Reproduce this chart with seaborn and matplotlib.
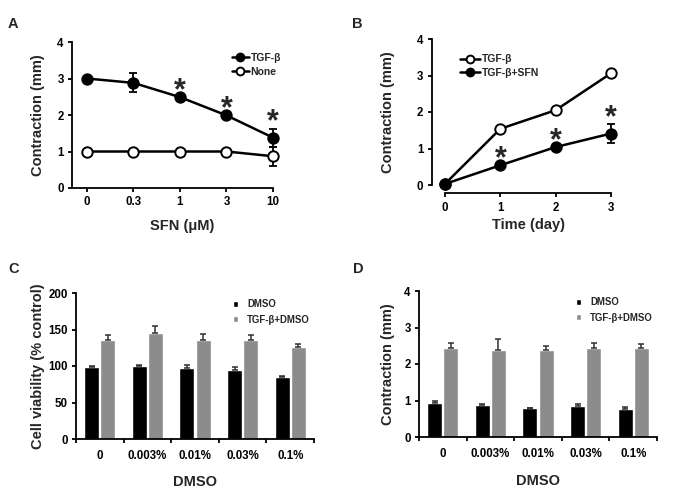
import numpy as np
import pandas as pd
import matplotlib
matplotlib.use("Agg")
import matplotlib.pyplot as plt
import seaborn as sns

# Panel A: contraction vs SFN dose
sfn_labels = ["0", "0.3", "1", "3", "10"]
sfn_tgf = [3.0, 2.88, 2.49, 1.99, 1.38]
sfn_tgf_err = [0.0, 0.26, 0.0, 0.0, 0.25]
sfn_none = [1.0, 1.0, 1.0, 1.0, 0.87]
sfn_none_err = [0.0, 0.0, 0.0, 0.0, 0.26]
sfn_star_idx = [2, 3, 4]

# Panel B: contraction time course
days = [0, 1, 2, 3]
time_tgf = [0.03, 1.54, 2.05, 3.06]
time_tgf_sfn = [0.03, 0.54, 1.04, 1.41]
time_tgf_sfn_err = [0.0, 0.0, 0.0, 0.27]
time_star_idx = [1, 2, 3]

# Panels C and D: DMSO controls
dmso_labels = ["0", "0.003%", "0.01%", "0.03%", "0.1%"]
group_labels = ["DMSO", "TGF-β+DMSO"]
via_dmso = [98.6, 99.5, 97.7, 94.0, 85.4]
via_dmso_err = [1.5, 1.5, 3.5, 4.0, 1.0]
via_tgf = [136.0, 145.7, 136.0, 136.0, 126.5]
via_tgf_err = [6.5, 8.5, 7.8, 7.0, 3.2]
con_dmso = [0.92, 0.87, 0.80, 0.84, 0.78]
con_dmso_err = [0.07, 0.03, 0.0, 0.07, 0.04]
con_tgf = [2.43, 2.39, 2.39, 2.43, 2.43]
con_tgf_err = [0.14, 0.29, 0.10, 0.14, 0.12]

sns.set_theme(style="ticks")
plt.rcParams["font.family"] = ["Liberation Sans", "DejaVu Sans"]
plt.rcParams["font.weight"] = "bold"
plt.rcParams["axes.labelweight"] = "bold"
plt.rcParams["axes.linewidth"] = 1.3
plt.rcParams["xtick.major.width"] = 1.3
plt.rcParams["ytick.major.width"] = 1.3
plt.rcParams["xtick.major.size"] = 3
plt.rcParams["ytick.major.size"] = 3
plt.rcParams["xtick.major.pad"] = 3
plt.rcParams["ytick.major.pad"] = 3
plt.rcParams["xtick.labelsize"] = 8.3
plt.rcParams["ytick.labelsize"] = 8.3
plt.rcParams["axes.labelsize"] = 10.5
plt.rcParams["xtick.color"] = "black"
plt.rcParams["ytick.color"] = "black"
plt.rcParams["axes.edgecolor"] = "black"

W, H = 681, 497
fig = plt.figure(figsize=(W / 100, H / 100), dpi=100)


def px_axes(left, right, top, bottom):
    return fig.add_axes([left / W, 1 - bottom / H, (right - left) / W, (bottom - top) / H])


axA = px_axes(72, 273, 42, 188)
axB = px_axes(445, 611, 39, 185)
axC = px_axes(76, 314, 293, 439)
axD = px_axes(419, 657, 291, 437)

line_kw = dict(color="black", linewidth=1.8, marker="o", markersize=7.5,
               markeredgecolor="black", markeredgewidth=1.4, clip_on=False)
err_kw = dict(fmt="none", ecolor="black", elinewidth=1.3, capsize=3, capthick=1.3,
              zorder=1.5, clip_on=False)
star_kw = dict(ha="center", va="baseline", fontsize=22, fontweight="bold",
               textcoords="offset points", xytext=(0, -1.5))


def add_stars(ax, xs, ys, errs, idx):
    for i in idx:
        ax.annotate("*", xy=(xs[i], ys[i] + errs[i]), **star_kw)


# ---- A ----
ax = axA
xa = np.arange(len(sfn_labels))
sns.lineplot(x=xa, y=sfn_tgf, ax=ax, markerfacecolor="black", label="TGF-β", **line_kw)
sns.lineplot(x=xa, y=sfn_none, ax=ax, markerfacecolor="white", label="None", **line_kw)
ax.errorbar(xa, sfn_tgf, yerr=sfn_tgf_err, **err_kw)
ax.errorbar(xa, sfn_none, yerr=sfn_none_err, **err_kw)
add_stars(ax, xa, sfn_tgf, sfn_tgf_err, sfn_star_idx)
ax.set_xlim(-0.32, 4)
ax.set_ylim(0, 4)
ax.set_xticks(xa, sfn_labels)
ax.set_yticks(range(5))
ax.set_xlabel("SFN (μM)")
ax.set_ylabel("Contraction (mm)")
ax.legend(loc="upper left", bbox_to_anchor=(0.77, 0.96), frameon=False, fontsize=7.5,
          handlelength=1.6, handletextpad=0.2, labelspacing=0.35, borderpad=0,
          markerscale=0.75)

# ---- B ----
ax = axB
sns.lineplot(x=days, y=time_tgf, ax=ax, markerfacecolor="white", label="TGF-β", **line_kw)
sns.lineplot(x=days, y=time_tgf_sfn, ax=ax, markerfacecolor="black", label="TGF-β+SFN", **line_kw)
ax.errorbar(days, time_tgf_sfn, yerr=time_tgf_sfn_err, **err_kw)
add_stars(ax, days, time_tgf_sfn, time_tgf_sfn_err, time_star_idx)
ax.set_xlim(0, 3)
ax.set_ylim(0, 4)
ax.set_xticks(days)
ax.set_yticks(range(5))
ax.spines["left"].set_position(("outward", 9.5))
ax.spines["bottom"].set_position(("outward", 6))
ax.set_xlabel("Time (day)")
ax.set_ylabel("Contraction (mm)")
ax.legend(loc="upper left", bbox_to_anchor=(0.06, 0.93), frameon=False, fontsize=7.5,
          handlelength=1.9, handletextpad=0.2, labelspacing=0.35, borderpad=0,
          markerscale=0.75)


# ---- C and D ----
def bar_panel(ax, dmso, dmso_err, tgf, tgf_err, ylim, yticks, ylabel):
    df = pd.DataFrame({
        "conc": dmso_labels * 2,
        "group": [group_labels[0]] * len(dmso) + [group_labels[1]] * len(tgf),
        "value": list(dmso) + list(tgf),
    })
    sns.barplot(data=df, x="conc", y="value", hue="group", ax=ax,
                palette=["black", "#8c8c8c"], saturation=1, width=0.68, gap=0.08,
                errorbar=None)
    for cont, errs in zip(ax.containers, [dmso_err, tgf_err]):
        xs = [p.get_x() + p.get_width() / 2 for p in cont]
        hs = [p.get_height() for p in cont]
        ax.errorbar(xs, hs, yerr=[np.zeros(len(errs)), errs], fmt="none",
                    ecolor="#303030", elinewidth=1.1, capsize=2.5, capthick=1.1)
    n = len(dmso_labels)
    ax.set_xlim(-0.5, n - 0.5)
    ax.set_ylim(*ylim)
    ax.set_yticks(yticks)
    ax.set_xticks(np.arange(n + 1) - 0.5)
    ax.set_xticklabels([])
    ax.set_xticks(np.arange(n), minor=True)
    ax.set_xticklabels(dmso_labels, minor=True)
    ax.tick_params(axis="x", which="minor", length=0, pad=8, labelsize=8.3)
    ax.set_xlabel("DMSO")
    ax.set_ylabel(ylabel)
    ax.legend(loc="upper left", bbox_to_anchor=(0.64, 0.99), frameon=False, fontsize=6.9,
              handlelength=0.55, handleheight=0.55, handletextpad=0.9,
              labelspacing=0.55, borderpad=0)


bar_panel(axC, via_dmso, via_dmso_err, via_tgf, via_tgf_err, (0, 200),
          range(0, 201, 50), "Cell viability (% control)")
bar_panel(axD, con_dmso, con_dmso_err, con_tgf, con_tgf_err, (0, 4),
          range(5), "Contraction (mm)")

for ax in (axA, axB, axC, axD):
    sns.despine(ax=ax)

# label placement (axes coords)
axA.yaxis.set_label_coords(-0.135, 0.5)
axB.yaxis.set_label_coords(-0.30, 0.5)
axC.yaxis.set_label_coords(-0.13, 0.5)
axD.yaxis.set_label_coords(-0.10, 0.5)
axA.xaxis.set_label_coords(0.55, -0.21)
axB.xaxis.set_label_coords(0.5, -0.225)
axC.xaxis.set_label_coords(0.5, -0.25)
axD.xaxis.set_label_coords(0.5, -0.255)

for letter, x, y in [("A", 8, 28), ("B", 352, 28), ("C", 8, 273), ("D", 353, 273)]:
    fig.text(x / W, 1 - y / H, letter, fontsize=10.5, fontweight="bold", va="baseline")

fig.savefig("out.png", dpi=100)
